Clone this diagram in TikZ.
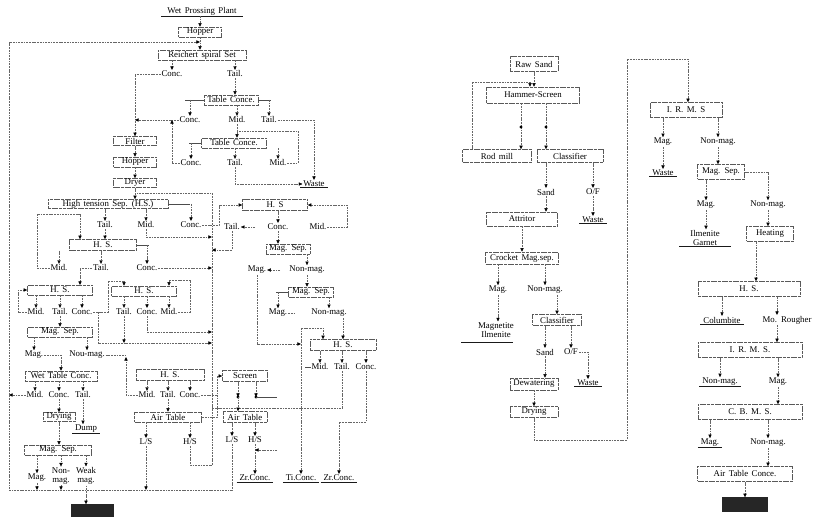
\documentclass[tikz,border=0pt]{standalone}
\usepackage{fontspec}
\setmainfont{Liberation Serif}
\usetikzlibrary{arrows.meta}
\newcommand{\fs}{\fontsize{8.8}{9.2}\selectfont\spaceskip=3.4pt plus 1pt}
\newcommand{\ulnode}[1]{\draw[ul] ([xshift=-2pt]#1.south west) -- ([xshift=2pt]#1.south east);}
\begin{document}
\begin{tikzpicture}[x=1pt,y=-1pt,
  bw/.style={minimum width=#1pt},
  bh/.style={minimum height=#1pt},
  bx/.style={draw=black!65, line width=0.5pt, dash pattern=on 3pt off 0.7pt, inner sep=0pt, font=\fs},
  lb/.style={inner sep=0.8pt, font=\fs},
  ln/.style={draw=black!60, line width=0.45pt, dash pattern=on 1.8pt off 0.9pt},
  sl/.style={draw=black!70, line width=0.5pt},
  arr/.style={ln, -{Triangle[length=3.6pt,width=3.2pt,color=black]}},
  ul/.style={draw=black!90, line width=0.9pt},
  blk/.style={fill=black!85, inner sep=0pt}]
\useasboundingbox (0,0) rectangle (815,518);

% ================= LEFT CHART =================
\node[lb] (plant) at (202,11) {Wet Prossing Plant};
\draw[ul] ([xshift=-5pt]plant.south west) -- ([xshift=5pt]plant.south east);
\node[bx,bw=43,bh=10] (hop1) at (200,32) {Hopper};
\draw[arr] (plant.south -| hop1) -- (hop1.north);
\node[bx,bw=88,bh=10] (rs) at (202,55) {Reichert spiral Set};
\draw[arr] (hop1.south) -- (hop1 |- rs.north);
\coordinate (tL) at (9,42);
\coordinate (bL) at (9,490);

\node[lb] (c1) at (172,74) {Conc.};
\node[lb] (t1) at (235,74) {Tail.};
\draw[arr] (rs.south -| c1) -- (c1.north);
\draw[arr] (rs.south -| t1) -- (t1.north);

\node[bx,bw=43,bh=9] (filt) at (135,141) {Filter};
\draw[arr] (c1.west) -| (filt.north);

\node[bx,bw=54,bh=10] (tc1) at (231,100) {Table Conce.};
\draw[arr] (t1.south) -- (t1 |- tc1.north);
\draw[sl] (tc1.west) -- ++(-19,0);
\draw[sl] (tc1.east) -- ++(13,0);
\node[lb] (c2) at (190,120) {Conc.};
\node[lb] (m2) at (237,120) {Mid.};
\node[lb] (t2) at (269,120) {Tail.};
\draw[arr] (tc1.west -| c2) -- (c2.north);
\draw[arr] (tc1.south -| m2) -- (m2.north);
\draw[arr] (tc1.east -| t2) -- (t2.north);
\draw[arr] (c2.west) -- (c2.west -| filt);

\node[lb] (waste0) at (314,184) {Waste};
\ulnode{waste0}
\draw[arr] (t2.east) -| (waste0.north);

\node[bx,bw=65,bh=10] (tc2) at (234,143) {Table Conce.};
\draw[arr] (m2.south) -- (m2 |- tc2.north);
\draw[sl] (tc2.west) -- ++(-12,0);
\node[lb] (c3) at (191,163) {Conc.};
\node[lb] (t3) at (235,163) {Tail.};
\node[lb] (m3) at (278,163) {Mid.};
\draw[arr] (tc2.west -| c3) -- (c3.north);
\draw[arr] (tc2.south -| t3) -- (t3.north);
\draw[arr] (tc2.south -| m3) -- (m3.north);
\coordinate (j1) at (298,131);
\draw[ln] (m3.east) -| (j1) -- (j1 -| m2);
\coordinate (j2) at (172,120);
\draw[arr] (c3.west) -| (j2);
\draw[arr] (t3.south) |- (waste0.west);

\node[bx,bw=43,bh=10] (hop2) at (135,162) {Hopper};
\node[bx,bw=43,bh=9] (dry1) at (135,183) {Dryer};
\draw[arr] (filt.south) -- (hop2.north);
\draw[arr] (hop2.south) -- (dry1.north);
\node[bx,bw=120,bh=9] (hs1) at (108,204) {High tension Sep. (H.S.)};
\draw[arr] (dry1.south) -- (dry1 |- hs1.north);
\draw[sl] (hs1.east) -- ++(22,0);

% collector back to the high tension separator
\coordinate (colT) at (212,193);
\coordinate (colB) at (212,465);
\draw[ln] (colB) -- (colT) -- (colT -| dry1);

\node[lb] (tl4) at (105,225) {Tail.};
\node[lb] (md4) at (146,225) {Mid.};
\node[lb] (cc4) at (191,225) {Conc.};
\draw[arr] (hs1.south -| tl4) -- (tl4.north);
\draw[arr] (hs1.south -| md4) -- (md4.north);
\draw[arr] (hs1.east -| cc4) -- (cc4.north);
\draw[arr] (md4.south) |- (colT |- 0,237);

\node[bx,bw=65,bh=11] (hsR) at (275,205) {H. S};
\draw[arr] (cc4.east) -| (219,205) -- (hsR.west);
\node[lb] (tlR) at (232,227) {Tail.};
\node[lb] (ccR) at (278,227) {Conc.};
\node[lb] (mdR) at (318,227) {Mid.};
\draw[arr] (hsR.south -| ccR) -- (ccR.north);
\coordinate (tlRs) at (255,227);
\draw[arr] (tlRs) -- (tlR.east);
\draw[arr] (mdR.east) -| (347,205) -- (hsR.east);
\draw[arr] (tlR.south) |- (colT |- 0,250);

\node[bx,bw=44,bh=10] (mgsR) at (288,249) {Mag. Sep.};
\draw[arr] (ccR.south) -- (ccR |- mgsR.north);
\node[lb] (mgR) at (257,270) {Mag.};
\node[lb] (nmR) at (307,270) {Non-mag.};
\draw[arr] (mgsR.south -| nmR) -- (nmR.north);
\coordinate (mgRs) at (280,270);
\draw[arr] (mgRs) -- (mgR.east);

\node[bx,bw=45,bh=10] (mgs2) at (311,292) {Mag. Sep.};
\draw[arr] (nmR.south) -- (nmR |- mgs2.north);
\draw[sl] (mgs2.west) -- ++(-12,0);
\node[lb] (mg2) at (278,313) {Mag.};
\node[lb] (nm2) at (329,313) {Non-mag.};
\draw[arr] (mgs2.west -| mg2) -- (mg2.north);
\draw[arr] (mgs2.south -| nm2) -- (nm2.north);
\draw[ln] (mg2.east) -- ++(8,0);

\node[bx,bw=66,bh=11] (hsB) at (343,345) {H. S.};
\draw[arr] (nm2.south -| hsB) -- (hsB.north);
\coordinate (v1) at (301,328);
\coordinate (v2) at (323,328);
\draw[arr] (v1) -- (v2) -- (v2 |- hsB.north);
\draw[arr] (mgR.south) |- (v1 |- 0,344);

\node[lb] (mdB) at (320,367) {Mid.};
\node[lb] (tlB) at (342,367) {Tail.};
\node[lb] (ccB) at (366,367) {Conc.};
\draw[arr] (hsB.south -| mdB) -- (mdB.north);
\draw[arr] (hsB.south -| tlB) -- (tlB.north);
\draw[arr] (hsB.south -| ccB) -- (ccB.north);
\draw[sl] (mdB.west) -- ++(-6,0);
\draw[ln] (tlB.south) |- (colT |- 0,408);

\node[lb] (zr1) at (255,478) {Zr.Conc.};
\node[lb] (ti) at (301,478) {Ti.Conc.};
\node[lb] (zr2) at (339,478) {Zr.Conc.};
\ulnode{zr1}
\ulnode{ti}
\ulnode{zr2}
\draw[arr] (v1) -- (ti.north);
\coordinate (k422) at (339,422);
\draw[arr] (ccB.south) |- (k422) -- (zr2.north);

\node[bx,bw=45,bh=11] (scr) at (245,376) {Screen};
\coordinate (dL) at (238,397);
\coordinate (dR) at (256,397);
\draw[arr] (scr.south -| dL) -- (dL);
\draw[arr] (scr.south -| dR) -- (dR);
\fill (dL) circle (1.6);
\fill (dR) circle (1.6);
\draw[sl] (dR) -- ++(21,0);
\node[bx,bw=44,bh=11] (at2) at (245,417) {Air Table};
\draw[arr] (dL) -- (dL |- at2.north);
\node[lb] (ls2) at (232,440) {L/S};
\node[lb] (hs2) at (255,440) {H/S};
\draw[arr] (at2.south -| ls2) -- (ls2.north);
\draw[arr] (at2.south -| hs2) -- (hs2.north);
\draw[arr] (hs2.south) -- (zr1.north);
\coordinate (hs2s) at (277,450);
\draw[arr] (hs2s) -- (hs2s -| hs2);

% left branch
\node[bx,bw=67,bh=11] (hs2L) at (103,245) {H. S.};
\draw[arr] (tl4.south) -- (tl4 |- hs2L.north);
\draw[sl] (hs2L.east) -- ++(12,0);
\node[lb] (md6) at (59,268) {Mid.};
\node[lb] (tl6) at (101,268) {Tail.};
\node[lb] (cc6) at (147,268) {Conc.};
\draw[arr] (hs2L.south -| md6) -- (md6.north);
\draw[arr] (hs2L.south -| tl6) -- (tl6.north);
\draw[arr] (hs2L.east -| cc6) -- (cc6.north);
\coordinate (q1) at (37,214);
\coordinate (q2) at (80,214);
\draw[arr] (md6.west) -| (q1) -- (q2) -- (q2 |- hs2L.north);
\draw[arr] (cc6.east) -- (colT |- cc6.east);

\node[bx,bw=65,bh=10] (hs3L) at (60,290) {H. S.};
\coordinate (q3) at (80,285);
\draw[arr] (tl6.west) -| (q3);
\node[lb] (md7) at (36,312) {Mid.};
\node[lb] (tl7) at (60,312) {Tail.};
\node[lb] (cc7) at (82,312) {Conc.};
\draw[arr] (hs3L.south -| md7) -- (md7.north);
\draw[arr] (hs3L.south -| tl7) -- (tl7.north);
\draw[arr] (hs3L.south -| cc7) -- (cc7.north);
\coordinate (q4) at (18,290);
\draw[arr] (md7.west) -| (q4) -- (hs3L.west);

\node[bx,bw=65,bh=10] (hs3R) at (144,291) {H. S.};
\node[lb] (tl8) at (124,312) {Tail.};
\node[lb] (cc8) at (147,312) {Conc.};
\node[lb] (md8) at (169,312) {Mid.};
\draw[arr] (hs3R.south -| tl8) -- (tl8.north);
\draw[arr] (hs3R.south -| cc8) -- (cc8.north);
\draw[arr] (hs3R.south -| md8) -- (md8.north);
\coordinate (q5) at (108,281);
\draw[arr] (cc7.east) -| (q5) -| (tl8 |- hs3R.north);
\coordinate (q6) at (190,280);
\draw[arr] (md8.east) -| (q6) -| (md8 |- hs3R.north);
\coordinate (q7) at (98,312);
\draw[arr] (q7) |- (colT |- 0,343);
\draw[arr] (tl8.south) -- (tl8 |- 0,343);
\draw[arr] (cc8.south) |- (colT |- 0,332);

\node[bx,bw=65,bh=10] (mgs1) at (60,332) {Mag. Sep.};
\draw[arr] (tl7.south) -- (tl7 |- mgs1.north);
\node[lb] (mg9) at (34,355) {Mag.};
\node[lb] (nm9) at (87,355) {Nou-mag.};
\draw[arr] (mgs1.south -| mg9) -- (mg9.north);
\draw[arr] (mgs1.south -| nm9) -- (nm9.north);
\coordinate (k357) at (126,357);
\draw[ln] (nm9.east) -- (k357 |- nm9.east);

\node[bx,bw=72,bh=10] (wtc) at (61,376) {Wet Table Conc.};
\draw[arr] (mg9.east) -| (wtc.north);

\node[bx,bw=68,bh=11] (hs4) at (170,375) {H. S.};
\node[lb] (md10) at (147,395) {Mid.};
\node[lb] (tl10) at (168,395) {Tail.};
\node[lb] (cc10) at (190,395) {Conc.};
\draw[arr] (hs4.south -| md10) -- (md10.north);
\draw[arr] (hs4.south -| tl10) -- (tl10.north);
\draw[arr] (hs4.south -| cc10) -- (cc10.north);
\draw[arr] (md10.west) -| (k357);
\node[bx,bw=67,bh=10] (at1) at (168,417) {Air Table};
\draw[arr] (tl10.south) -- (tl10 |- at1.north);
\draw[arr] (cc10.east) -| (217,376) -- (scr.west);
\draw[ln] (217,395) -- (217,417) -- (at1.east);
\node[lb] (ls1) at (146,442) {L/S};
\node[lb] (hs1b) at (190,442) {H/S};
\draw[arr] (at1.south -| ls1) -- (ls1.north);
\draw[arr] (at1.south -| hs1b) -- (hs1b.north);
\draw[arr] (ls1.south) -- (ls1 |- bL);
\draw[ln] (hs1b.south) |- (colB);

\node[lb] (md11) at (35,395) {Mid.};
\node[lb] (cc11) at (59,395) {Conc.};
\node[lb] (tl11) at (83,395) {Tail.};
\draw[arr] (wtc.south -| md11) -- (md11.north);
\draw[arr] (wtc.south -| cc11) -- (cc11.north);
\draw[arr] (wtc.south -| tl11) -- (tl11.north);
\draw[arr] (md11.west) -- (md11.west -| bL);
\node[bx,bw=32,bh=9] (dry3) at (59,417) {Drying};
\draw[arr] (cc11.south) -- (dry3.north);
\node[lb] (dump) at (86,429) {Dump};
\ulnode{dump}
\draw[arr] (tl11.south) -- (tl11 |- dump.north);
\node[bx,bw=67,bh=10] (mgs3) at (58,450) {Mag. Sep.};
\draw[arr] (dry3.south) -- (dry3 |- mgs3.north);
\node[lb] (mg12) at (37,478) {Mag.};
\node[lb,align=center] (nm12) at (61,476) {Non-\\mag.};
\node[lb,align=center] (wk12) at (86,476) {Weak\\mag.};
\draw[arr] (mgs3.south -| mg12) -- (mg12.north);
\draw[arr] (mgs3.south -| nm12) -- (nm12.north);
\draw[arr] (mgs3.south -| wk12) -- (wk12.north);
\draw[arr] (mg12.south) -- (mg12 |- bL);
\draw[arr] (nm12.south) -- (nm12 |- bL);
\node[blk,bw=43,bh=13] (blk1) at (92,511) {};
\draw[arr] (wk12.south) -- (wk12 |- blk1.north);

% recycle line: bottom and left edge back to the Reichert spiral
\draw[arr] (ls2.south) |- (bL) -- (tL) -- (tL -| hop1);

% ================= RIGHT CHART =================
\node[bx,bw=48,bh=15] (raw) at (534,64) {Raw Sand};
\node[bx,bw=93,bh=16] (hmr) at (533,95) {Hammer-Screen};
\draw[arr] (raw.south) -- (raw |- hmr.north);
\node[bx,bw=69,bh=13] (rod) at (497,156) {Rod mill};
\node[bx,bw=66,bh=13] (cls1) at (570,156) {Classifier};
\coordinate (r1) at (472,82);
\draw[arr] (rod.north -| r1) -- (r1) -| ([xshift=-3pt]hmr.north);
\coordinate (dA) at (521,127);
\coordinate (dB) at (546,127);
\draw[ln] (hmr.south -| dA) -- (dA);
\draw[ln] (hmr.south -| dB) -- (dB);
\draw[arr] (dA) -- (dA |- rod.north);
\draw[arr] (dB) -- (dB |- cls1.north);
\fill (dA) circle (1.6);
\fill (dB) circle (1.6);
\node[lb] (snd1) at (546,192) {Sand};
\node[lb] (of1) at (593,192) {O/F};
\draw[arr] (cls1.south -| snd1) -- (snd1.north);
\draw[arr] (cls1.south -| of1) -- (of1.north);
\node[lb] (ws1) at (593,220) {Waste};
\ulnode{ws1}
\draw[arr] (of1.south) -- (ws1.north);
\node[bx,bw=71,bh=14] (att) at (522,219) {Attritor};
\draw[arr] (snd1.south) -- (snd1 |- att.north);
\node[bx,bw=73,bh=12] (crk) at (522,258) {Crocket Mag.sep.};
\draw[arr] (att.south) -- (crk.north);
\node[lb] (mgA) at (498,290) {Mag.};
\node[lb] (nmA) at (545,290) {Non-mag.};
\draw[arr] (crk.south -| mgA) -- (mgA.north);
\draw[arr] (crk.south -| nmA) -- (nmA.north);
\node[lb,align=center] (mag1) at (496,330) {Magnetite\\Ilmenite};
\draw[ul] ([xshift=-16pt,yshift=-4pt]mag1.south west) -- ([xshift=-2pt,yshift=-4pt]mag1.south east);
\draw[arr] (mgA.south) -- (mgA |- mag1.north);
\node[bx,bw=49,bh=11] (cls2) at (557,320) {Classifier};
\draw[arr] (cls2 |- nmA.south) -- (cls2.north);
\node[lb] (snd2) at (545,352) {Sand};
\node[lb] (of2) at (571,352) {O/F};
\draw[arr] (cls2.south -| snd2) -- (snd2.north);
\draw[arr] (cls2.south -| of2) -- (of2.north);
\node[lb] (ws2) at (588,383) {Waste};
\ulnode{ws2}
\draw[arr] (of2.east) -| (ws2.north);
\node[bx,bw=48,bh=12] (dew) at (534,384) {Dewatering};
\draw[arr] (snd2.south) -- (snd2 |- dew.north);
\node[bx,bw=48,bh=11] (dry2) at (534,412) {Drying};
\draw[arr] (dew.south) -- (dry2.north);

\node[bx,bw=72,bh=15] (irms1) at (686,110) {I. R. M. S};
\coordinate (p1) at (534,440);
\coordinate (p2) at (627,440);
\coordinate (p3) at (627,59);
\coordinate (p4) at (688,59);
\draw[arr] (dry2.south) -- (p1) -- (p2) -- (p3) -- (p4) -- (p4 |- irms1.north);
\node[lb] (mgB) at (663,142) {Mag.};
\node[lb] (nmB) at (718,142) {Non-mag.};
\draw[arr] (irms1.south -| mgB) -- (mgB.north);
\draw[arr] (irms1.south -| nmB) -- (nmB.north);
\node[lb] (ws3) at (663,173) {Waste};
\ulnode{ws3}
\draw[arr] (mgB.south) -- (ws3.north);
\node[bx,bw=47,bh=15] (ms3) at (721,172) {Mag. Sep.};
\draw[arr] (nmB.south) -- (nmB |- ms3.north);
\node[lb] (mgC) at (706,205) {Mag.};
\node[lb] (nmC) at (768,205) {Non-mag.};
\draw[arr] (ms3.south -| mgC) -- (mgC.north);
\draw[arr] (ms3.east) -| (nmC.north);
\node[lb,align=center] (ilm) at (705,238) {Ilmenite\\Garnet};
\draw[ul] ([xshift=-10pt]ilm.south west) -- ([xshift=10pt]ilm.south east);
\draw[arr] (mgC.south) -- (mgC |- ilm.north);
\node[bx,bw=47,bh=15] (heat) at (770,234) {Heating};
\draw[arr] (nmC.south) -- (nmC |- heat.north);
\node[bx,bw=102,bh=15] (hs5) at (749,289) {H. S.};
\coordinate (p5) at (756,242);
\draw[arr] (p5) -- (p5 |- hs5.north);
\node[lb] (colu) at (722,320) {Columbite};
\ulnode{colu}
\node[lb] (mor) at (787,320) {Mo. Rougher};
\coordinate (p6) at (777,297);
\draw[arr] (hs5.south -| colu) -- (colu.north);
\draw[arr] (p6) -- (p6 |- mor.north);
\node[bx,bw=104,bh=15] (irms2) at (750,350) {I. R. M. S.};
\draw[arr] (mor.south -| p6) -- (p6 |- irms2.north);
\node[lb] (nmD) at (720,382) {Non-mag.};
\ulnode{nmD}
\node[lb] (mgD) at (778,382) {Mag.};
\draw[arr] (irms2.south -| nmD) -- (nmD.north);
\draw[arr] (irms2.south -| mgD) -- (mgD.north);
\node[bx,bw=104,bh=15] (cbms) at (750,412) {C. B. M. S.};
\draw[arr] (mgD.south) -- (mgD |- cbms.north);
\node[lb] (mgE) at (710,443) {Mag.};
\ulnode{mgE}
\node[lb] (nmE) at (768,443) {Non-mag.};
\draw[arr] (cbms.south -| mgE) -- (mgE.north);
\draw[arr] (cbms.south -| nmE) -- (nmE.north);
\node[bx,bw=95,bh=15] (atc) at (745,474) {Air Table Conce.};
\draw[arr] (nmE.south) -- (nmE |- atc.north);
\node[blk,bw=46,bh=15] (blk2) at (745,505) {};
\draw[arr] (atc.south) -- (blk2.north);
\end{tikzpicture}
\end{document}
